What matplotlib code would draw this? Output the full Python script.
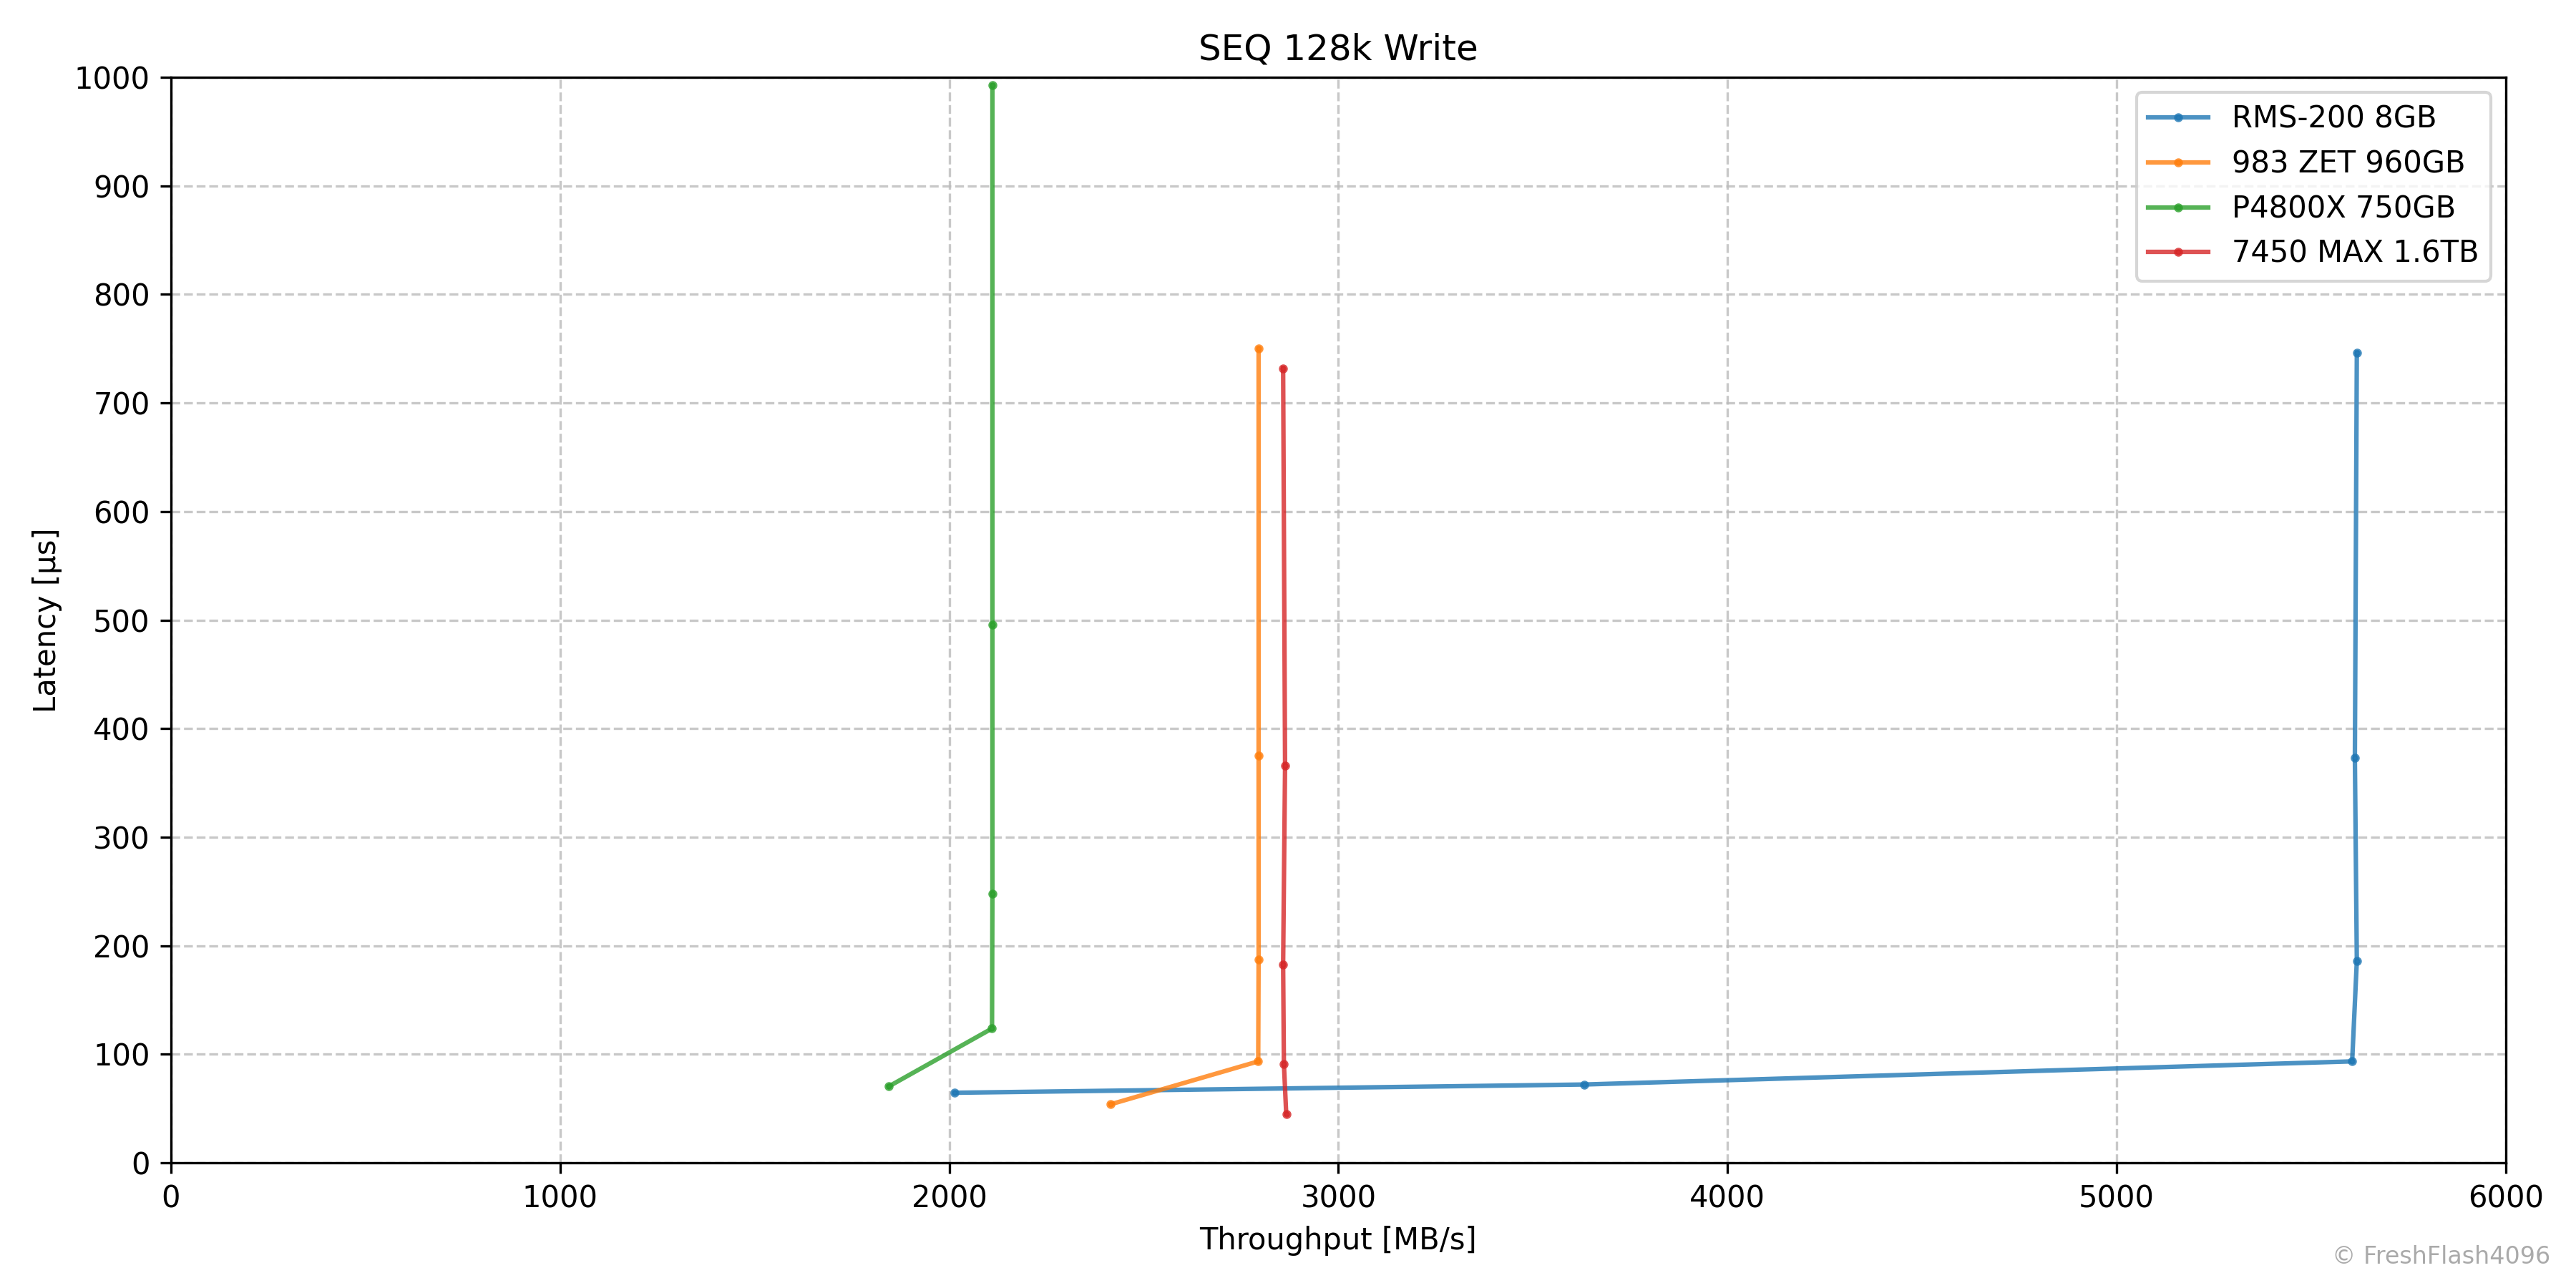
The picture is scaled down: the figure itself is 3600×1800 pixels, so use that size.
import matplotlib
matplotlib.use("Agg")
import matplotlib.pyplot as plt

# throughput [MB/s] and latency [us] per drive, QD 1..32
labels = ["RMS-200 8GB", "983 ZET 960GB", "P4800X 750GB", "7450 MAX 1.6TB"]
colors = ["#1f77b4", "#ff7f0e", "#2ca02c", "#d62728"]

rms_x = [2014, 3631, 5605, 5617, 5612, 5617]
rms_y = [64.6, 72.2, 93.5, 186, 373, 746.5]

zet_x = [2415, 2794, 2795, 2795, 2795]
zet_y = [54, 93.5, 187.6, 375, 750]

p48_x = [1845, 2110, 2111, 2111, 2111]
p48_y = [70.5, 123.8, 248, 496, 992.5]

max_x = [2866, 2860, 2858, 2863, 2858]
max_y = [45, 91, 183, 366, 732]

xs = [rms_x, zet_x, p48_x, max_x]
ys = [rms_y, zet_y, p48_y, max_y]

fig, ax = plt.subplots(figsize=(12, 6), dpi=300)
for x, y, lab, c in zip(xs, ys, labels, colors):
    ax.plot(x, y, marker="o", markersize=2, linewidth=1.5, alpha=0.8, color=c, label=lab)

ax.set_xlim(0, 6000)
ax.set_ylim(0, 1000)
ax.set_yticks(range(0, 1001, 100))
ax.grid(True, linestyle="--", color="#bbbbbb", alpha=0.8)
ax.set_title("SEQ 128k Write")
ax.set_xlabel("Throughput [MB/s]")
ax.set_ylabel("Latency [µs]")
ax.legend(loc="upper right")
fig.text(0.99, 0.015, "© FreshFlash4096", ha="right", va="bottom", fontsize=8, color="#aaaaaa")
fig.tight_layout()
fig.savefig("out.png")
